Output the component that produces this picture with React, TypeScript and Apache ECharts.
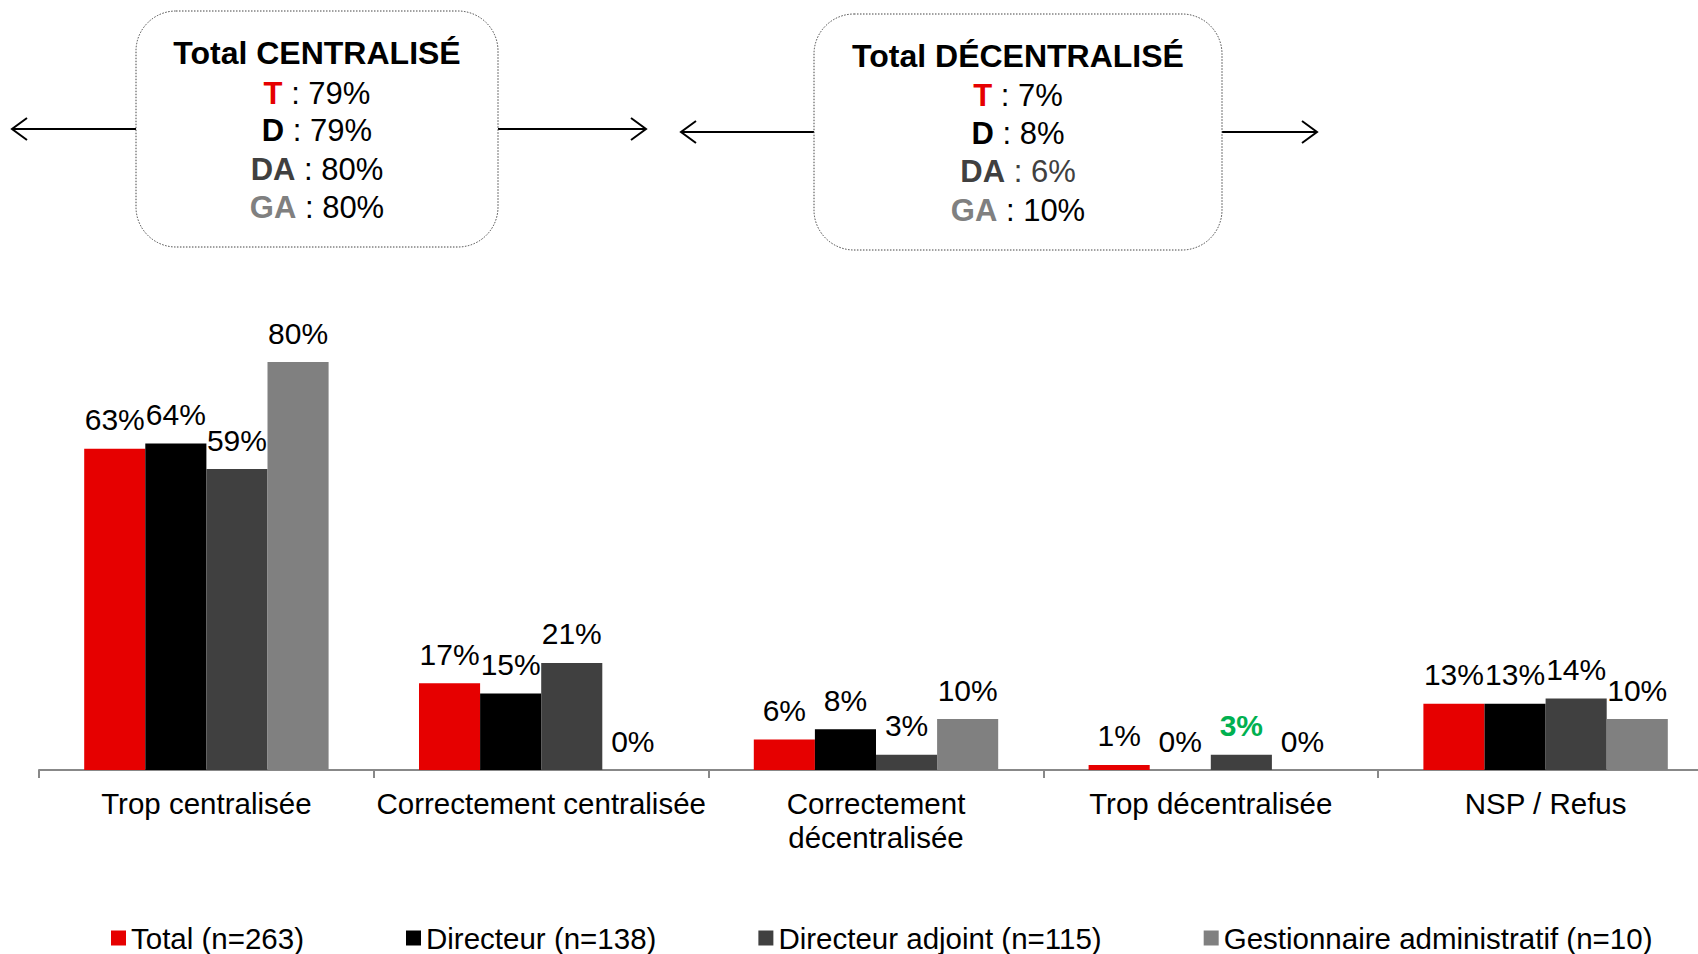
import React, { useEffect, useRef } from "react";
import * as echarts from "echarts";

const categories = [
  "Trop centralisée",
  "Correctement centralisée",
  "Correctement\ndécentralisée",
  "Trop décentralisée",
  "NSP / Refus",
];
const seriesNames = [
  "Total (n=263)",
  "Directeur (n=138)",
  "Directeur adjoint (n=115)",
  "Gestionnaire administratif (n=10)",
];
const totalValues = [63, 17, 6, 1, 13];
const directeurValues = [64, 15, 8, 0, 13];
const adjointValues = [59, 21, 3, 3, 14];
const gestionnaireValues = [80, 0, 10, 0, 10];
const seriesColors = ["#E60000", "#000000", "#404040", "#808080"];
const highlightedAdjointIndex = 3;

const centraliseTitle = "Total CENTRALISÉ";
const centraliseLines = [
  ["T", "79%"],
  ["D", "79%"],
  ["DA", "80%"],
  ["GA", "80%"],
];
const decentraliseTitle = "Total DÉCENTRALISÉ";
const decentraliseLines = [
  ["T", "7%"],
  ["D", "8%"],
  ["DA", "6%"],
  ["GA", "10%"],
];
const keyColors: Record<string, string> = {
  T: "#E60000",
  D: "#000000",
  DA: "#404040",
  GA: "#808080",
};

const FONT = "'Liberation Sans', Arial, sans-serif";

function boxGraphics(
  left: number,
  top: number,
  right: number,
  bottom: number,
  title: string,
  lines: string[][],
  lineYs: number[],
  arrowY: number,
  leftTip: number,
  rightTip: number,
  valueColors: string[]
) {
  const cx = (left + right) / 2;
  const els: any[] = [];
  els.push({
    type: "rect",
    shape: { x: left, y: top, width: right - left, height: bottom - top, r: 40 },
    style: { fill: "#fff", stroke: "#444", lineWidth: 1, lineDash: [1.5, 1.5] },
    z: 10,
  });
  els.push({
    type: "text",
    z: 11,
    style: {
      text: title,
      x: cx,
      y: lineYs[0],
      align: "center",
      verticalAlign: "middle",
      textAlign: "center",
      textVerticalAlign: "middle",
      fontSize: 32,
      fontWeight: "bold",
      fontFamily: FONT,
      fill: "#000",
    },
  });
  lines.forEach((ln, i) => {
    els.push({
      type: "text",
      z: 11,
      style: {
        text: `{k|${ln[0]}}{v| : ${ln[1]}}`,
        x: cx,
        y: lineYs[i + 1],
        align: "center",
        verticalAlign: "middle",
        textAlign: "center",
        textVerticalAlign: "middle",
        fontSize: 31,
        fontFamily: FONT,
        fill: "#000",
        rich: {
          k: { fill: keyColors[ln[0]], fontWeight: "bold", fontSize: 31, fontFamily: FONT },
          v: { fill: valueColors[i], fontSize: 31, fontFamily: FONT },
        },
      },
    });
  });
  const arrowStyle = { stroke: "#000", lineWidth: 2, fill: "none" };
  els.push({
    type: "line",
    shape: { x1: left, y1: arrowY, x2: leftTip, y2: arrowY },
    style: arrowStyle,
  });
  els.push({
    type: "polyline",
    shape: { points: [[leftTip + 15, arrowY - 11], [leftTip, arrowY], [leftTip + 15, arrowY + 11]] },
    style: arrowStyle,
  });
  els.push({
    type: "line",
    shape: { x1: right, y1: arrowY, x2: rightTip, y2: arrowY },
    style: arrowStyle,
  });
  els.push({
    type: "polyline",
    shape: { points: [[rightTip - 15, arrowY - 11], [rightTip, arrowY], [rightTip - 15, arrowY + 11]] },
    style: arrowStyle,
  });
  return els;
}

export default function App() {
  const ref = useRef<HTMLDivElement>(null);
  useEffect(() => {
    if (!ref.current) return;
    const chart = echarts.init(ref.current, undefined, { renderer: "svg" });
    const valuesList = [totalValues, directeurValues, adjointValues, gestionnaireValues];
    const series = valuesList.map((vals, si) => ({
      name: seriesNames[si],
      type: "bar",
      barGap: "0%",
      barCategoryGap: "27%",
      itemStyle: { color: seriesColors[si] },
      label: {
        show: true,
        position: "top",
        distance: 14,
        formatter: "{c}%",
        color: "#000",
        fontSize: 30,
        fontFamily: FONT,
      },
      data: vals.map((v, i) =>
        si === 2 && i === highlightedAdjointIndex
          ? { value: v, label: { color: "#00B050", fontWeight: "bold" } }
          : v
      ),
    }));

    const graphics = [
      ...boxGraphics(
        136, 11, 498, 247,
        centraliseTitle, centraliseLines,
        [53, 93, 130, 169, 207],
        129, 12, 646,
        ["#000", "#000", "#000", "#000"]
      ),
      ...boxGraphics(
        814, 14, 1222, 250,
        decentraliseTitle, decentraliseLines,
        [56, 95, 133, 171, 210],
        132, 681, 1317,
        ["#000", "#000", "#404040", "#000"]
      ),
    ];

    chart.setOption({
      animation: false,
      textStyle: { fontFamily: FONT },
      grid: { left: 39, right: 0, top: 260, height: 510, containLabel: false },
      legend: {
        left: 106,
        top: 918,
        icon: "rect",
        itemWidth: 15,
        itemHeight: 15,
        itemGap: 102,
        textStyle: { fontSize: 29.5, color: "#000", fontFamily: FONT },
        data: seriesNames,
      },
      xAxis: {
        type: "category",
        data: categories,
        axisLine: { lineStyle: { color: "#888", width: 2 } },
        axisTick: { show: true, length: 8, lineStyle: { color: "#888", width: 2 } },
        axisLabel: {
          interval: 0,
          margin: 16,
          color: "#000",
          fontSize: 29.5,
          lineHeight: 34,
          fontFamily: FONT,
        },
      },
      yAxis: {
        type: "value",
        min: 0,
        max: 100,
        show: false,
        splitLine: { show: false },
      },
      series,
      graphic: { elements: graphics },
    });
    return () => chart.dispose();
  }, []);
  return (
    <div
      style={{
        position: "fixed",
        left: 0,
        top: 0,
        width: 1698,
        height: 954,
        overflow: "hidden",
        background: "#fff",
      }}
    >
      <div ref={ref} style={{ width: 1712.5, height: 954 }} />
    </div>
  );
}
